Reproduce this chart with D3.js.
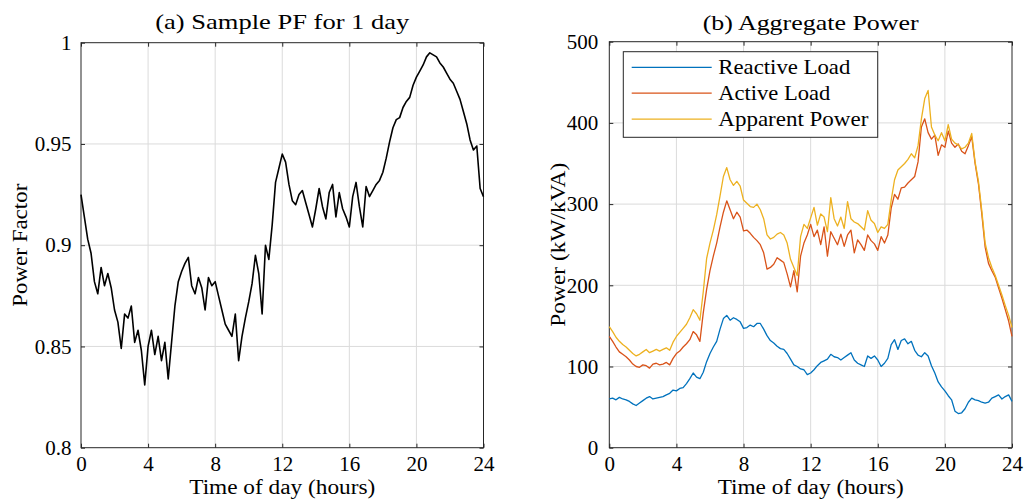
<!DOCTYPE html>
<html>
<head>
<meta charset="utf-8">
<script src="https://cdn.jsdelivr.net/npm/d3@7"></script>
<style>
  body { margin: 0; background: #fff; }
  svg text { font-family: "Liberation Serif", "Times New Roman", serif; fill: #000; }
</style>
</head>
<body>
<svg id="chart" width="1028" height="499"></svg>
<script>
// sample times, one reading every 0.2 h
const hours = d3.range(121).map(function(i){ return i * 0.2; });

const xTicks = [0, 4, 8, 12, 16, 20, 24];
const pfTicks = [0.8, 0.85, 0.9, 0.95, 1];
const powerTicks = [0, 100, 200, 300, 400, 500];

// (a) power factor over one day
const powerFactor = [
  0.925, 0.914, 0.903, 0.896, 0.882, 0.876, 0.889, 0.880, 0.886, 0.879,
  0.868, 0.862, 0.849, 0.866, 0.864, 0.870, 0.852, 0.858, 0.848, 0.831,
  0.850, 0.858, 0.846, 0.855, 0.843, 0.852, 0.834, 0.852, 0.870, 0.882,
  0.887, 0.891, 0.894, 0.880, 0.876, 0.884, 0.879, 0.868, 0.884, 0.880,
  0.882, 0.875, 0.868, 0.861, 0.858, 0.855, 0.866, 0.843, 0.855, 0.864,
  0.872, 0.881, 0.895, 0.886, 0.866, 0.900, 0.893, 0.910, 0.931, 0.938,
  0.945, 0.941, 0.930, 0.922, 0.920, 0.925, 0.927, 0.921, 0.915, 0.909,
  0.918, 0.928, 0.919, 0.913, 0.926, 0.930, 0.914, 0.926, 0.918, 0.914,
  0.909, 0.924, 0.931, 0.919, 0.909, 0.929, 0.924, 0.927, 0.930, 0.932,
  0.936, 0.943, 0.951, 0.958, 0.962, 0.963, 0.968, 0.971, 0.973, 0.979,
  0.983, 0.986, 0.989, 0.993, 0.995, 0.994, 0.993, 0.990, 0.988, 0.985,
  0.982, 0.980, 0.976, 0.972, 0.966, 0.960, 0.952, 0.947, 0.949, 0.928,
  0.924
];

// (b) aggregate power, kVAr / kW / kVA
const reactiveLoad = [
  60, 61, 59, 62, 60, 59, 57, 54, 52, 55,
  58, 61, 63, 60, 61, 62, 63, 65, 67, 71,
  70, 73, 74, 79, 85, 92, 87, 85, 93, 106,
  116, 124, 131, 146, 159, 163, 157, 160, 158, 155,
  147, 148, 151, 149, 153, 153, 146, 138, 132, 129,
  125, 122, 121, 116, 109, 102, 100, 97, 96, 90,
  92, 96, 101, 105, 107, 109, 115, 112, 111, 108,
  111, 114, 117, 108, 104, 102, 100, 113, 110, 113,
  108, 100, 104, 110, 127, 133, 121, 132, 134, 128,
  131, 120, 114, 112, 117, 113, 101, 92, 81, 75,
  70, 64, 59, 45, 42, 43, 48, 56, 61, 59,
  58, 56, 55, 56, 61, 63, 65, 60, 63, 65,
  57
];
const activeLoad = [
  137, 131, 124, 118, 115, 112, 108, 103, 100, 99,
  102, 101, 98, 103, 104, 102, 103, 105, 102, 110,
  116, 119, 124, 128, 133, 143, 139, 131, 166, 195,
  218, 236, 252, 272, 290, 304, 293, 282, 290, 284,
  267, 268, 264, 259, 255, 250, 240, 220, 222, 226,
  234, 231, 228, 214, 198, 218, 192, 236, 252, 262,
  275, 260, 268, 250, 272, 236, 266, 258, 250, 263,
  248, 262, 268, 240, 256, 250, 243, 262, 255, 251,
  243, 260, 252, 262, 295, 312, 306, 320, 321, 326,
  330, 334, 352, 395, 405, 388, 380, 385, 360, 373,
  370, 390, 375, 370, 374, 365, 362, 372, 383, 350,
  325, 288, 247, 227, 218, 210, 197, 184, 170, 156,
  137
];
const apparentPower = [
  149, 143, 136, 131, 127, 124, 120, 116, 113, 115,
  118, 121, 117, 119, 121, 119, 121, 123, 120, 130,
  137, 142, 147, 152, 160, 170, 165, 157, 192, 233,
  252, 268, 287, 310, 334, 345, 330, 323, 328, 322,
  305, 301, 297, 296, 300, 293, 282, 262, 257, 259,
  263, 265, 262, 252, 232, 222, 212, 260, 275, 270,
  283, 296, 274, 288, 284, 266, 308, 282, 273, 284,
  270, 303, 282, 278, 276, 272, 268, 292, 280, 276,
  265, 272, 270, 275, 305, 330, 342, 346, 350, 355,
  362, 357, 372, 405, 430, 440, 395, 385, 378, 388,
  378, 398, 380, 375, 373, 368, 370, 375, 387, 352,
  328, 292, 252, 234, 222, 212, 200, 188, 175, 163,
  148
];

const seriesNames = ["Reactive Load", "Active Load", "Apparent Power"];
const seriesColors = ["#0072BD", "#D95319", "#EDB120"];

const svg = d3.select("#chart");

// draws box, grid, ticks and labels for one panel, returns the scales
function drawAxes(p){
  const x = d3.scaleLinear().domain([0, 24]).range([p.left, p.right]);
  const y = d3.scaleLinear().domain(p.yDomain).range([p.bottom, p.top]);
  const g = svg.append("g");

  // grid
  g.selectAll(".vgrid").data(xTicks.slice(1, -1)).enter().append("line")
    .attr("x1", function(d){ return x(d); }).attr("x2", function(d){ return x(d); })
    .attr("y1", p.top).attr("y2", p.bottom)
    .attr("stroke", "#dbdbdb").attr("stroke-width", 1);
  g.selectAll(".hgrid").data(p.yTicks.slice(1, -1)).enter().append("line")
    .attr("x1", p.left).attr("x2", p.right)
    .attr("y1", function(d){ return y(d); }).attr("y2", function(d){ return y(d); })
    .attr("stroke", "#dbdbdb").attr("stroke-width", 1);

  g.append("g").attr("transform", "translate(0," + p.bottom + ")")
    .call(d3.axisBottom(x).tickValues(xTicks).tickSize(-4).tickPadding(8));
  g.append("g").attr("transform", "translate(" + p.left + ",0)")
    .call(d3.axisLeft(y).tickValues(p.yTicks).tickSize(-4).tickPadding(p.yPad)
      .tickFormat(p.fmt));
  g.append("g").attr("transform", "translate(0," + p.top + ")")
    .call(d3.axisTop(x).tickValues(xTicks).tickSize(-4).tickFormat(""));
  g.append("g").attr("transform", "translate(" + p.right + ",0)")
    .call(d3.axisRight(y).tickValues(p.yTicks).tickSize(-4).tickFormat(""));

  g.selectAll(".domain").remove();
  g.selectAll(".tick line").attr("stroke", "#262626");
  g.selectAll(".tick text").attr("font-size", 21).attr("fill", "#000")
    .attr("font-family", "Liberation Serif, serif");

  g.append("rect")
    .attr("x", p.left).attr("y", p.top)
    .attr("width", p.right - p.left).attr("height", p.bottom - p.top)
    .attr("fill", "none").attr("stroke", "#262626").attr("stroke-width", 1);

  const cx = (p.left + p.right) / 2;
  svg.append("text").attr("x", cx).attr("y", p.titleY)
    .attr("text-anchor", "middle").attr("font-size", 22)
    .attr("textLength", p.titleLen).attr("lengthAdjust", "spacingAndGlyphs")
    .text(p.title);
  svg.append("text").attr("x", cx).attr("y", 494)
    .attr("text-anchor", "middle").attr("font-size", 20)
    .attr("textLength", 186).attr("lengthAdjust", "spacingAndGlyphs")
    .text("Time of day (hours)");
  svg.append("text")
    .attr("transform", "translate(" + p.yLabelX + "," + ((p.top + p.bottom) / 2) + ") rotate(-90)")
    .attr("text-anchor", "middle").attr("font-size", 21)
    .attr("textLength", p.yLabelLen).attr("lengthAdjust", "spacingAndGlyphs")
    .text(p.yLabel);

  return { x: x, y: y };
}

function drawLine(sc, values, color, width){
  const line = d3.line()
    .x(function(d, i){ return sc.x(hours[i]); })
    .y(function(d){ return sc.y(d); });
  svg.append("path").datum(values)
    .attr("d", line)
    .attr("fill", "none")
    .attr("stroke", color)
    .attr("stroke-width", width)
    .attr("stroke-linejoin", "round");
}

// panel (a)
const scA = drawAxes({
  left: 81, right: 483.5, top: 42.7, bottom: 447.7,
  yDomain: [0.8, 1], yTicks: pfTicks, yPad: 9.5,
  fmt: function(d){ return d3.format("")(d); },
  title: "(a) Sample PF for 1 day", titleLen: 254, titleY: 28.5,
  yLabel: "Power Factor", yLabelX: 27, yLabelLen: 123
});
drawLine(scA, powerFactor, "#000", 1.6);

// panel (b)
const scB = drawAxes({
  left: 609.3, right: 1012, top: 41.7, bottom: 447.7,
  yDomain: [0, 500], yTicks: powerTicks, yPad: 11,
  fmt: d3.format("d"),
  title: "(b) Aggregate Power", titleLen: 216, titleY: 30,
  yLabel: "Power (kW/kVA)", yLabelX: 565, yLabelLen: 164
});
drawLine(scB, reactiveLoad, seriesColors[0], 1.3);
drawLine(scB, activeLoad, seriesColors[1], 1.3);
drawLine(scB, apparentPower, seriesColors[2], 1.3);

// legend
const leg = svg.append("g");
leg.append("rect").attr("x", 623.3).attr("y", 51.7)
  .attr("width", 254.4).attr("height", 85.6)
  .attr("fill", "#fff").attr("stroke", "#262626").attr("stroke-width", 1);
const legendLens = [132, 112, 150];
seriesNames.forEach(function(name, i){
  const ly = 67.3 + i * 25.9;
  leg.append("line").attr("x1", 631.7).attr("x2", 711.7)
    .attr("y1", ly).attr("y2", ly)
    .attr("stroke", seriesColors[i]).attr("stroke-width", 1.3);
  leg.append("text").attr("x", 718.3).attr("y", ly + 7)
    .attr("font-size", 21)
    .attr("textLength", legendLens[i]).attr("lengthAdjust", "spacingAndGlyphs")
    .text(name);
});
</script>
</body>
</html>
